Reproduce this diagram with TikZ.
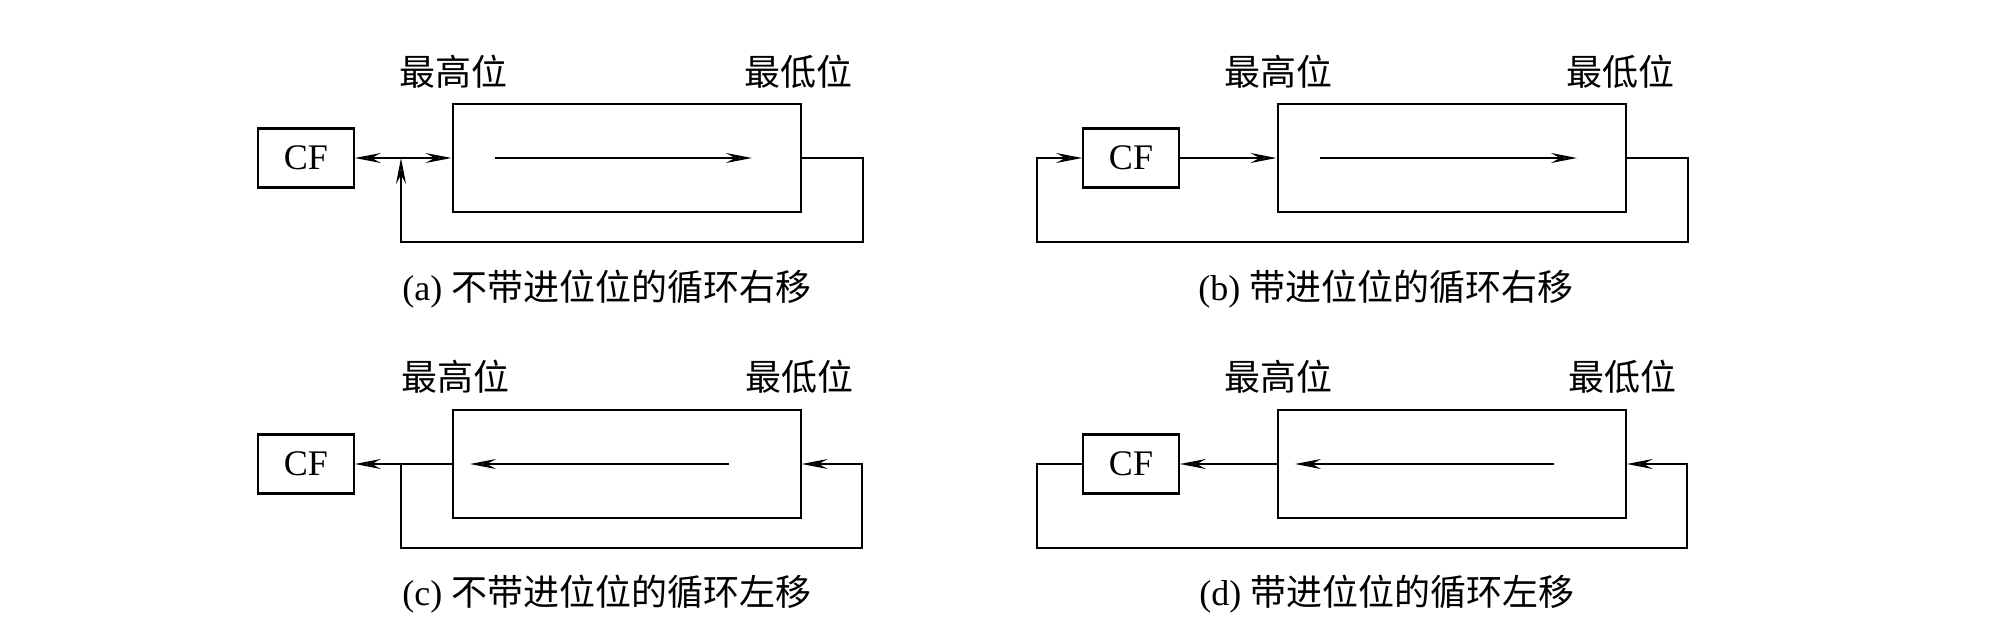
\documentclass[tikz,border=0pt]{standalone}
\usepackage{fontspec}
\setmainfont{Liberation Serif}
\newfontfamily\cjk{Noto Sans CJK SC}
\usetikzlibrary{arrows.meta,calc}
\tikzset{
  every node/.style={font=\fontsize{18pt}{21pt}\selectfont},
  cfbox/.style={draw, line width=1.1pt, minimum width=47.75pt, minimum height=29.5pt, inner sep=0pt},
  regbox/.style={draw, line width=1.1pt, minimum width=174pt, minimum height=54pt, inner sep=0pt},
  conn/.style={line width=1pt},
  tipa/.tip={Stealth[length=13pt,width=5pt,inset=4.5pt,fill=gray!55]},
  arr/.style={conn,-tipa},
  darr/.style={conn,tipa-tipa},
  lbl/.style={inner sep=0pt},
  captext/.style={inner sep=0pt, anchor=west}
}
\begin{document}
\begin{tikzpicture}[x=0.5pt,y=-0.5pt]
\useasboundingbox (0,0) rectangle (1992,642);
% ---------------- (a)
\node[cfbox] (cfa) at (306,158) {CF};
\node[regbox] (rega) at (626.6,158) {};
\node[lbl] (hia) at (453,72) {\cjk 最高位};
\node[lbl] (loa) at (798,72) {\cjk 最低位};
\node[captext] (capa) at (402,289) {(a) {\cjk 不带进位位的循环右移}};
\coordinate (ia1) at (495,158);
\coordinate (ia2) at (752,158);
\draw[arr] (ia1) -- (ia2);
\coordinate (ja) at (401,158);
\draw[darr] (cfa.east) -- (rega.west);
\draw[arr] (rega.east) -- ++(61,0) -- ++(0,83.5) -| (ja);
% ---------------- (b)
\node[cfbox] (cfb) at (1131,158) {CF};
\node[regbox] (regb) at (1451.6,158) {};
\node[lbl] (hib) at (1278,72) {\cjk 最高位};
\node[lbl] (lob) at (1620,72) {\cjk 最低位};
\node[captext] (capb) at (1198,289) {(b) {\cjk 带进位位的循环右移}};
\coordinate (ib1) at (1320,158);
\coordinate (ib2) at (1577,158);
\draw[arr] (ib1) -- (ib2);
\coordinate (jb) at (1037,158);
\draw[arr] (cfb.east) -- (regb.west);
\draw[arr] (regb.east) -- ++(61,0) -- ++(0,83.5) -| (jb) -- (cfb.west);
% ---------------- (c)
\node[cfbox] (cfc) at (306,464) {CF};
\node[regbox] (regc) at (626.6,464) {};
\node[lbl] (hic) at (455,377) {\cjk 最高位};
\node[lbl] (loc) at (799,377) {\cjk 最低位};
\node[captext] (capc) at (402,594) {(c) {\cjk 不带进位位的循环左移}};
\coordinate (ic1) at (729,464);
\coordinate (ic2) at (470,464);
\draw[arr] (ic1) -- (ic2);
\coordinate (jc) at (401,464);
\coordinate (rc) at (862,464);
\draw[arr] (regc.west) -- (cfc.east);
\draw[arr] (jc) -- ++(0,84) -| (rc) -- (regc.east);
% ---------------- (d)
\node[cfbox] (cfd) at (1131,464) {CF};
\node[regbox] (regd) at (1451.6,464) {};
\node[lbl] (hid) at (1278,377) {\cjk 最高位};
\node[lbl] (lod) at (1622,377) {\cjk 最低位};
\node[captext] (capd) at (1199,594) {(d) {\cjk 带进位位的循环左移}};
\coordinate (id1) at (1554,464);
\coordinate (id2) at (1295,464);
\draw[arr] (id1) -- (id2);
\coordinate (jd) at (1037,464);
\coordinate (rd) at (1687,464);
\draw[arr] (regd.west) -- (cfd.east);
\draw[arr] (cfd.west) -- (jd) -- ++(0,84) -| (rd) -- (regd.east);
\end{tikzpicture}
\end{document}
